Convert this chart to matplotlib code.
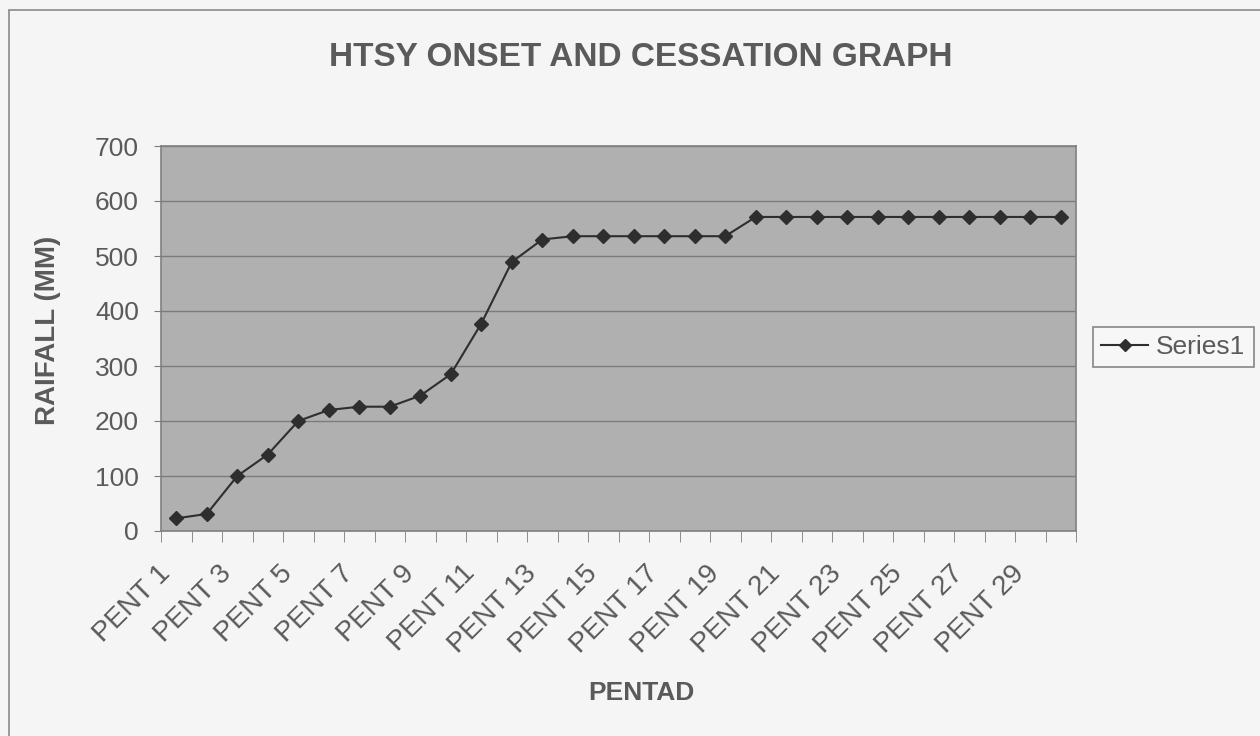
import matplotlib
matplotlib.use("Agg")
import matplotlib.pyplot as plt
from matplotlib.patches import Rectangle
from matplotlib.transforms import ScaledTranslation

plt.rcParams['font.family'] = ['Liberation Sans', 'DejaVu Sans']

# data
pentads = [f"PENT {i}" for i in range(1, 31)]
rainfall = [23, 31, 100, 139, 200, 220, 226, 226, 246, 285,
            377, 489, 530, 536, 536, 536, 536, 536, 536, 571,
            571, 571, 571, 571, 571, 571, 571, 571, 571, 571]
yticks = [0, 100, 200, 300, 400, 500, 600, 700]

W, H = 1260, 736
text_col = "#5a5a5a"

fig = plt.figure(figsize=(W / 100, H / 100), dpi=100, facecolor="#f5f5f5")

# chart area border (only left/top visible in the scan)
fig.patches.append(Rectangle((9 / W, -0.05), 1.1, 1 - 10 / H + 0.05,
                             transform=fig.transFigure, fill=False,
                             edgecolor="#8a8a8a", linewidth=1.2))

ax = fig.add_axes([161 / W, (H - 531) / H, 915 / W, 385 / H])
ax.set_facecolor("#b0b0b0")

x = list(range(len(pentads)))
ax.plot(x, rainfall, color="#2e2e2e", linewidth=1.5, marker="D",
        markersize=7.5, label="Series1")

ax.set_xlim(-0.5, len(pentads) - 0.5)
ax.set_ylim(0, 700)
ax.set_yticks(yticks)
ax.yaxis.grid(True, color="#7c7c7c", linewidth=1)
ax.set_axisbelow(True)

# category labels every other pentad, tick marks between categories
ax.set_xticks(x[::2])
ax.set_xticklabels(pentads[::2], rotation=45, ha="right",
                   rotation_mode="anchor", fontsize=20, color=text_col)
ax.tick_params(axis="x", which="major", length=0, pad=16)
shift = ScaledTranslation(-0.19, -0.07, fig.dpi_scale_trans)
for lab in ax.get_xticklabels():
    lab.set_transform(lab.get_transform() + shift)
ax.set_xticks([i - 0.5 for i in range(len(pentads) + 1)], minor=True)
ax.tick_params(axis="x", which="minor", length=8, color="#7c7c7c", direction="out")
ax.tick_params(axis="y", length=5, color="#7c7c7c", labelsize=19,
               labelcolor=text_col, pad=11)

for s in ax.spines.values():
    s.set_color("#808080")
    s.set_linewidth(1.2)

fig.text(641 / W, 1 - 57 / H, "HTSY ONSET AND CESSATION GRAPH", ha="center",
         va="center", fontsize=24, fontweight="bold", color=text_col)
fig.text(48 / W, 1 - 330 / H, "RAIFALL (MM)", ha="center", va="center",
         rotation=90, fontsize=20, fontweight="bold", color=text_col)
fig.text(641 / W, 1 - 693 / H, "PENTAD", ha="center", va="center",
         fontsize=19, fontweight="bold", color=text_col)

leg = ax.legend(loc="center left", bbox_to_anchor=(1093 / W, 1 - 347 / H),
                bbox_transform=fig.transFigure, borderaxespad=0, fontsize=19,
                frameon=True, fancybox=False, handlelength=1.8,
                handletextpad=0.3, borderpad=0.3, markerscale=0.8)
leg.get_frame().set_edgecolor("#6a6a6a")
leg.get_frame().set_facecolor("#f8f8f8")
leg.get_frame().set_linewidth(1.2)
for t in leg.get_texts():
    t.set_color(text_col)

fig.savefig("out.png", dpi=100, facecolor=fig.get_facecolor())
